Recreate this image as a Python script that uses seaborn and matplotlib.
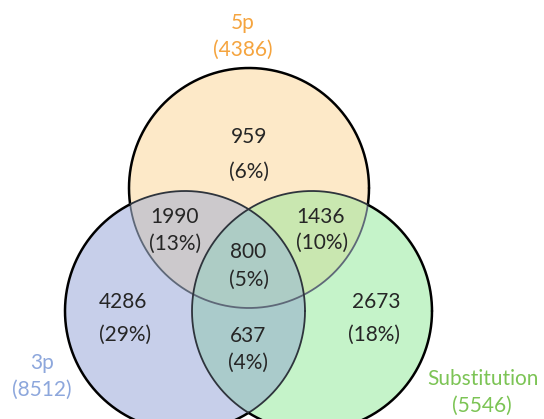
import matplotlib
matplotlib.use("Agg")
import matplotlib.pyplot as plt
from matplotlib.patches import Circle, Polygon
import seaborn as sns
import numpy as np

# set data
set_names = ["5p", "3p", "Substitution"]
set_totals = [4386, 8512, 5546]
set_label_colors = ["#F5A43E", "#8DA7DC", "#7CC455"]

# region order: 5p only, 3p only, Sub only, 5p&3p, 5p&Sub, 3p&Sub, all
region_members = [(0,), (1,), (2,), (0, 1), (0, 2), (1, 2), (0, 1, 2)]
region_counts = [959, 4286, 2673, 1990, 1436, 637, 800]
region_pcts = [6, 29, 18, 13, 10, 4, 5]

# geometry / layout (pixel space)
centers = [(249, 188), (185, 311), (312, 311)]
radius = 120
region_colors = ["#FDE9C8", "#C7CFEA", "#C5F3C9",
                 "#CCC9CC", "#C9E7B0", "#AACBCB", "#ADCCC5"]
count_pos = [(249, 137), (123, 302), (376, 302),
             (175, 217), (321, 217), (248, 336), (248, 252)]
pct_pos = [(249, 172), (125, 335), (374, 335),
           (175, 244), (322, 243), (248, 363), (249, 280)]
name_pos = [(243, 23), (42, 363), (483, 379)]
total_pos = [(243, 50), (42, 390), (482, 406)]


def circle_points(i, n=2000):
    t = np.linspace(0, 2 * np.pi, n)
    cx, cy = centers[i]
    return np.column_stack([cx + radius * np.cos(t), cy + radius * np.sin(t)])


def inside(pts, j):
    cx, cy = centers[j]
    return (pts[:, 0] - cx) ** 2 + (pts[:, 1] - cy) ** 2 <= radius ** 2


def intersection_polygon(members):
    pts = []
    for i in members:
        p = circle_points(i)
        mask = np.ones(len(p), dtype=bool)
        for j in members:
            if j != i:
                mask &= inside(p, j)
        pts.append(p[mask])
    pts = np.vstack(pts)
    c = pts.mean(axis=0)
    order = np.argsort(np.arctan2(pts[:, 1] - c[1], pts[:, 0] - c[0]))
    return pts[order]


sns.set_theme(style="white")
plt.rcParams["font.family"] = ["Lato", "DejaVu Sans"]

fig = plt.figure(figsize=(5.44, 4.19), dpi=100)
ax = fig.add_axes([0, 0, 1, 1])
ax.set_xlim(0, 544)
ax.set_ylim(419, 0)
ax.axis("off")

for k, members in enumerate(region_members):
    if len(members) == 1:
        ax.add_patch(Circle(centers[members[0]], radius,
                            facecolor=region_colors[k], edgecolor="none", zorder=1))
    else:
        ax.add_patch(Polygon(intersection_polygon(members), closed=True,
                             facecolor=region_colors[k], edgecolor="none",
                             zorder=len(members)))

# outlines: outer parts black, parts inside other circles dimmer
inner_colors = ["#5E6878", "#2E343C", "#2E343C"]
for i in range(3):
    p = circle_points(i)
    in_other = np.zeros(len(p), dtype=bool)
    for j in range(3):
        if j != i:
            in_other |= inside(p, j)
    outer = p.copy()
    outer[in_other] = np.nan
    inner = p.copy()
    inner[~in_other] = np.nan
    ax.plot(outer[:, 0], outer[:, 1], color="black", lw=1.8, zorder=5)
    ax.plot(inner[:, 0], inner[:, 1], color=inner_colors[i], lw=1.3, zorder=5)

fs = 15
for k in range(len(region_counts)):
    ax.text(*count_pos[k], f"{region_counts[k]}", ha="center", va="center",
            fontsize=fs, color="#262626", zorder=6)
    ax.text(*pct_pos[k], f"({region_pcts[k]}%)", ha="center", va="center",
            fontsize=fs, color="#262626", zorder=6)

for i in range(3):
    ax.text(*name_pos[i], set_names[i], ha="center", va="center",
            fontsize=fs, color=set_label_colors[i])
    ax.text(*total_pos[i], f"({set_totals[i]})", ha="center", va="center",
            fontsize=fs, color=set_label_colors[i])

fig.savefig("out.png", dpi=100)
